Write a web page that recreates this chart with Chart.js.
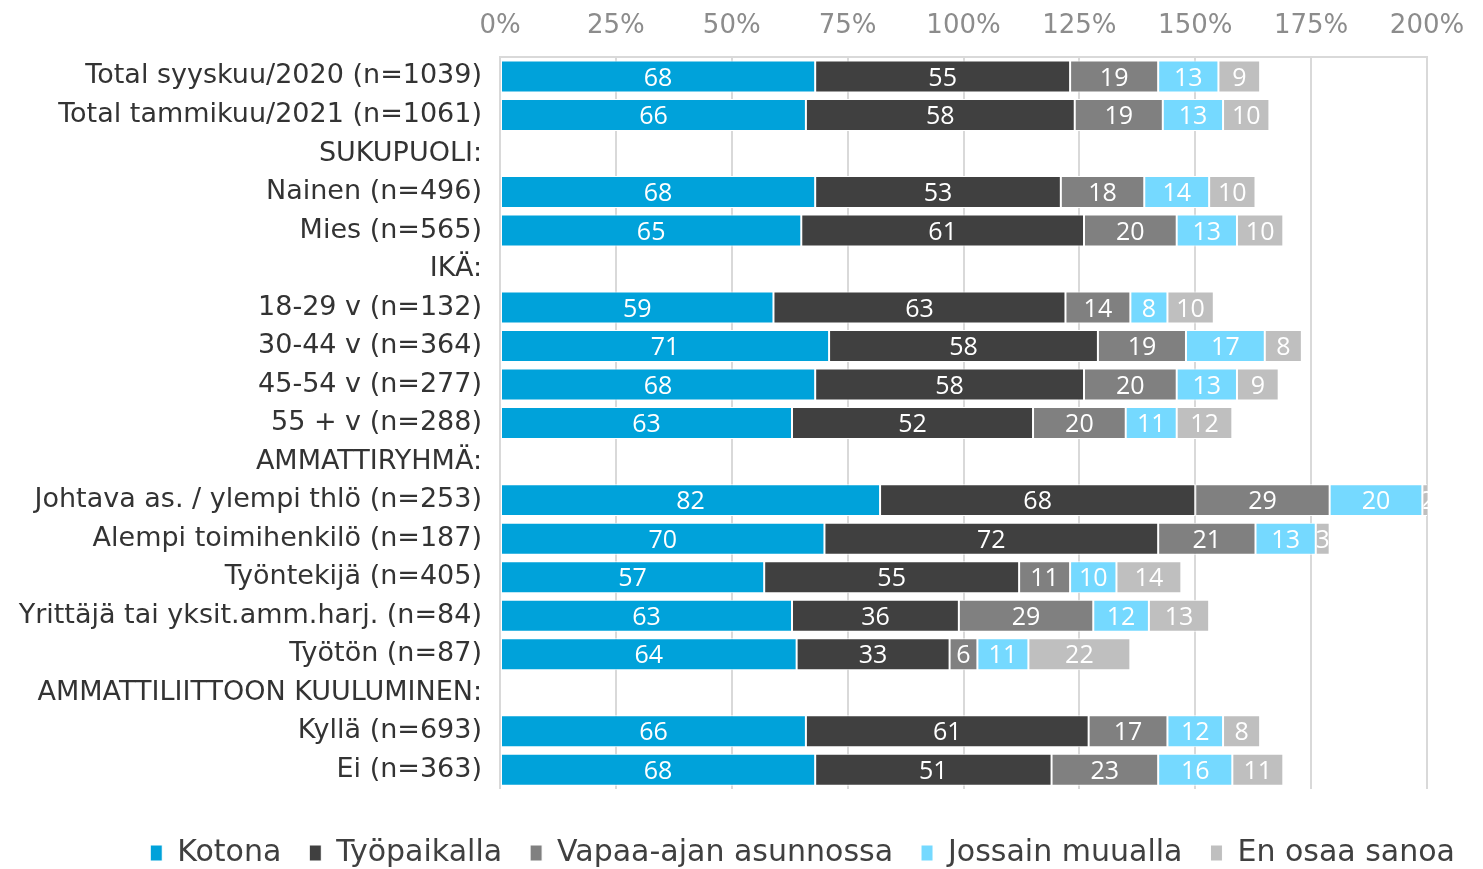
<!DOCTYPE html>
<html>
<head>
<meta charset="utf-8">
<script src="https://cdn.jsdelivr.net/npm/chart.js@4.4.1/dist/chart.umd.min.js"></script>
<style>
  html, body { margin: 0; padding: 0; background: #fff; }
  #wrap { width: 1483px; height: 869px; }
</style>
</head>
<body>
<div id="wrap"><canvas id="chart" width="1483" height="869"></canvas></div>
<script>
// categories (empty values = group header rows)
const categories = [
    'Total syyskuu/2020 (n=1039)',
    'Total tammikuu/2021 (n=1061)',
    'SUKUPUOLI:',
    'Nainen (n=496)',
    'Mies (n=565)',
    'IKÄ:',
    '18-29 v (n=132)',
    '30-44 v (n=364)',
    '45-54 v (n=277)',
    '55 + v (n=288)',
    'AMMATTIRYHMÄ:',
    'Johtava as. / ylempi thlö (n=253)',
    'Alempi toimihenkilö (n=187)',
    'Työntekijä (n=405)',
    'Yrittäjä tai yksit.amm.harj. (n=84)',
    'Työtön (n=87)',
    'AMMATTILIITTOON KUULUMINEN:',
    'Kyllä (n=693)',
    'Ei (n=363)'
];

const kotona      = [68, 66, null, 68, 65, null, 59, 71, 68, 63, null, 82, 70, 57, 63, 64, null, 66, 68];
const tyopaikalla = [55, 58, null, 53, 61, null, 63, 58, 58, 52, null, 68, 72, 55, 36, 33, null, 61, 51];
const vapaaajan   = [19, 19, null, 18, 20, null, 14, 19, 20, 20, null, 29, 21, 11, 29, 6, null, 17, 23];
const jossain     = [13, 13, null, 14, 13, null, 8, 17, 13, 11, null, 20, 13, 10, 12, 11, null, 12, 16];
const enosaa      = [9, 10, null, 10, 10, null, 10, 8, 9, 12, null, 2, 3, 14, 13, 22, null, 8, 11];

const series_names = ['Kotona', 'Työpaikalla', 'Vapaa-ajan asunnossa', 'Jossain muualla', 'En osaa sanoa'];
const series_colors = ['#00a2da', '#404040', '#808080', '#75d9ff', '#bfbfbf'];
const x_ticks = [0, 25, 50, 75, 100, 125, 150, 175, 200];

function make_dataset(label, values, color){
    return {
        label: label,
        data: values,
        xAxisID: 'x',
        yAxisID: 'y',
        backgroundColor: color,
        borderColor: '#ffffff',
        borderWidth: 1,
        borderSkipped: false,
        categoryPercentage: 1.0,
        barPercentage: 0.83
    };
}

// white value labels, clipped to their own bar like the original
const bar_labels = {
    id: 'bar_labels',
    afterDatasetsDraw(chart){
        const ctx = chart.ctx;
        ctx.save();
        ctx.font = '25px "Open Sans", "DejaVu Sans", sans-serif';
        ctx.fillStyle = '#ffffff';
        ctx.textAlign = 'center';
        ctx.textBaseline = 'middle';
        chart.data.datasets.forEach((ds, di) => {
            const meta = chart.getDatasetMeta(di);
            meta.data.forEach((bar, i) => {
                const v = ds.data[i];
                if (v === null || v === undefined) return;
                const left = Math.min(bar.x, bar.base);
                const right = Math.max(bar.x, bar.base);
                const top = bar.y - bar.height / 2;
                ctx.save();
                ctx.beginPath();
                ctx.rect(left + 1, top, right - left - 2, bar.height);
                ctx.clip();
                ctx.fillText(String(v), (left + right) / 2, bar.y + 2);
                ctx.restore();
            });
        });
        ctx.restore();
    }
};

const ctx = document.getElementById('chart').getContext('2d');
const chart = new Chart(ctx, {
    type: 'bar',
    data: {
        labels: categories,
        datasets: [
            make_dataset(series_names[0], kotona, series_colors[0]),
            make_dataset(series_names[1], tyopaikalla, series_colors[1]),
            make_dataset(series_names[2], vapaaajan, series_colors[2]),
            make_dataset(series_names[3], jossain, series_colors[3]),
            make_dataset(series_names[4], enosaa, series_colors[4])
        ]
    },
    options: {
        responsive: false,
        animation: false,
        indexAxis: 'y',
        layout: {
            padding: { top: -4, right: 0, bottom: -9, left: 0 }
        },
        plugins: {
            legend: {
                position: 'bottom',
                align: 'end',
                labels: {
                    font: { family: '"DejaVu Sans", Verdana, sans-serif', size: 30 },
                    color: '#404040',
                    boxWidth: 12,
                    boxHeight: 16,
                    padding: 28
                }
            },
            tooltip: { enabled: false }
        },
        scales: {
            x: {
                position: 'top',
                stacked: true,
                min: 0,
                max: 200,
                afterBuildTicks: (scale) => {
                    scale.ticks = x_ticks.map(v => ({ value: v }));
                },
                ticks: {
                    callback: (v) => v + '%',
                    color: '#8c8c8c',
                    font: { family: '"DejaVu Sans", Verdana, sans-serif', size: 26 },
                    padding: 15,
                    maxRotation: 0
                },
                grid: {
                    color: '#d9d9d9',
                    lineWidth: 2,
                    drawTicks: false
                },
                border: { display: true, color: '#d9d9d9', width: 2 }
            },
            y: {
                stacked: true,
                afterFit: (scale) => { scale.width = 500; },
                ticks: {
                    color: '#333333',
                    font: { family: '"DejaVu Sans", Verdana, sans-serif', size: 27 },
                    padding: 18,
                    autoSkip: false
                },
                grid: { display: false, drawTicks: false },
                border: { display: false }
            },
            // spacer between plot and legend
            xb: {
                type: 'linear',
                position: 'bottom',
                display: true,
                ticks: { display: false },
                grid: { display: false },
                border: { display: false },
                afterFit: (scale) => { scale.height = 21; }
            },
            // spacer on the right so 200% sits where it did
            yr: {
                type: 'linear',
                position: 'right',
                display: true,
                ticks: { display: false },
                grid: { display: false },
                border: { display: false },
                afterFit: (scale) => { scale.width = 56; }
            }
        }
    },
    plugins: [bar_labels]
});
</script>
</body>
</html>
